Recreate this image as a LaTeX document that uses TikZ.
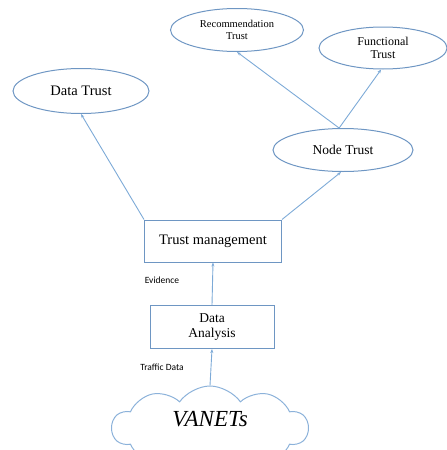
\documentclass[tikz,border=0pt]{standalone}
\usepackage{fontspec}
\setmainfont{Liberation Serif}
\newfontfamily\labelfont{Carlito}
\usetikzlibrary{shapes.geometric,shapes.symbols,arrows.meta}

\definecolor{edgeblue}{RGB}{110,150,195}
\definecolor{lineblue}{RGB}{125,170,215}
\definecolor{cloudblue}{RGB}{140,178,218}

\tikzset{
  trust/.style={ellipse,draw=edgeblue,line width=1pt,inner sep=0pt,align=center},
  block/.style={rectangle,draw=edgeblue,line width=1pt,inner sep=0pt,align=center},
  flow/.style={draw=lineblue,line width=0.9pt,-{Stealth[length=4pt,width=3pt]}},
  note/.style={font=\labelfont\fontsize{9.5}{11}\selectfont}
}

\begin{document}
\begin{tikzpicture}[x=1pt,y=-1pt]
\useasboundingbox (0,0) rectangle (447,450);
\clip (0,0) rectangle (447,450);

% trust nodes
\node[trust,minimum width=136,minimum height=45,font=\fontsize{14.5}{15}\selectfont] (data) at (81,91) {Data Trust};
\node[trust,minimum width=133,minimum height=43,font=\fontsize{10.5}{12}\selectfont] (rec) at (237,30) {Recommendation\\Trust};
\node[trust,minimum width=128,minimum height=42,font=\fontsize{12}{13.5}\selectfont] (func) at (383,48) {Functional\\Trust};
\node[trust,minimum width=140,minimum height=43,font=\fontsize{13.5}{15}\selectfont] (node) at (343,150) {Node Trust};

% processing
\node[block,minimum width=137,minimum height=42,font=\fontsize{14.5}{15}\selectfont] (mgmt) at (213,241) {Trust management};
\node[block,minimum width=124,minimum height=43,font=\fontsize{13.5}{15}\selectfont] (ana) at (212,327) {Data\\Analysis};
\node[cloud,draw=cloudblue,line width=1pt,cloud puffs=10,cloud puff arc=110,aspect=2.6,
      minimum width=196,minimum height=84,inner sep=0pt,text height=16pt,text depth=20pt,
      font=\itshape\fontsize{23}{25}\selectfont] (van) at (210,428) {VANETs};

\node[note] (evid) at (162,280) {Evidence};
\node[note] (traf) at (162,367) {Traffic Data};

\draw[flow] (van.north) -- (ana.south);
\draw[flow] (ana.north) -- (mgmt.south);
\draw[flow] (mgmt.north west) -- (data.south);
\draw[flow] (mgmt.north east) -- (node.265);
\draw[flow] (node.100) -- (rec.south);
\draw[flow] (node.100) -- (func.265);
\end{tikzpicture}
\end{document}
